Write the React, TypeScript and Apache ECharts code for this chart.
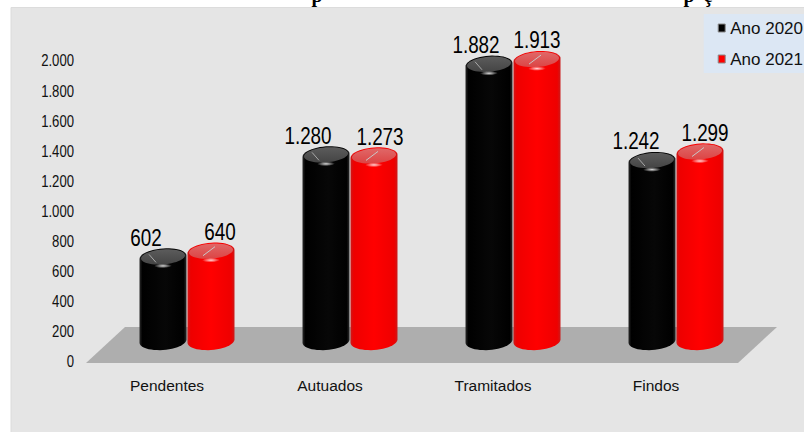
import React, { useEffect, useRef } from "react";
import * as echarts from "echarts";

const categories = ["Pendentes", "Autuados", "Tramitados", "Findos"];
const ano2020 = [602, 1280, 1882, 1242];
const ano2021 = [640, 1273, 1913, 1299];
const seriesNames = ["Ano 2020", "Ano 2021"];
const tickValues = [0, 200, 400, 600, 800, 1000, 1200, 1400, 1600, 1800, 2000];

// Hand-placed horizontal nudges of the value labels, per category.
const labelNudge2020 = [-17, -18, -13, -16];
const labelNudge2021 = [9, 6, 0, 5];

const FONT = '"Liberation Sans", Arial, sans-serif';
const SERIF = '"Liberation Serif", serif';
const SHIFT_X = 20; // cylinders sit back on the floor, right of the axis band
const SHIFT_Y = 13; // and above the scale line by the same perspective
const RX = 23.5;
const RY = 9;
const TILT = -0.07; // ellipse slope: the right side rides slightly higher

const fmt = (v: number) =>
  v >= 1000 ? `${Math.floor(v / 1000)}.${String(v % 1000).padStart(3, "0")}` : String(v);

// Point on a tilted ellipse centred at (cx, cy).
function pt(cx: number, cy: number, a: number, rx = RX, ry = RY) {
  const x = rx * Math.cos(a);
  const y = ry * Math.sin(a);
  return [cx + x, cy + y + x * TILT];
}

function ellipsePath(cx: number, cy: number, rx = RX, ry = RY) {
  const pts: string[] = [];
  for (let i = 0; i <= 48; i++) {
    const p = pt(cx, cy, (i / 48) * Math.PI * 2, rx, ry);
    pts.push(`${i ? "L" : "M"}${p[0].toFixed(2)} ${p[1].toFixed(2)}`);
  }
  return pts.join(" ") + " Z";
}

function bodyPath(cx: number, top: number, base: number) {
  const pts: string[] = [];
  for (let i = 0; i <= 24; i++) {
    const p = pt(cx, base, (i / 24) * Math.PI);
    pts.push(`${i ? "L" : "M"}${p[0].toFixed(2)} ${p[1].toFixed(2)}`);
  }
  for (let i = 24; i <= 48; i++) {
    const p = pt(cx, top, (i / 24) * Math.PI);
    pts.push(`L${p[0].toFixed(2)} ${p[1].toFixed(2)}`);
  }
  return pts.join(" ") + " Z";
}

const palettes = [
  {
    body: [
      [0, "#2a2a2a"],
      [0.06, "#000000"],
      [0.55, "#070707"],
      [0.94, "#000000"],
      [1, "#2a2a2a"],
    ],
    lid: ["#5c5c5c", "#444444"],
    needle: [[-14, -3], [-7, 5]],
    needleColor: "#a8a8a8",
  },
  {
    body: [
      [0, "#cc1a1a"],
      [0.07, "#ee0000"],
      [0.5, "#ff0000"],
      [0.93, "#ee0000"],
      [1, "#cc1a1a"],
    ],
    lid: ["#e06868", "#dc4444"],
    needle: [[4, -5], [-8, 4]],
    needleColor: "#c8c8c8",
  },
];

function cylinderSeries(name: string, values: number[], side: 0 | 1, nudge: number[]) {
  const pal = palettes[side];
  return {
    name,
    type: "custom",
    z: 3 + side,
    itemStyle: { color: side === 0 ? "#000000" : "#ff0000" },
    data: values.map((v, i) => [i, v]),
    encode: { x: 0, y: 1 },
    renderItem(_p: any, api: any) {
      const idx = api.value(0);
      const val = api.value(1);
      const [x, yVal] = api.coord([idx, val]);
      const [, yZero] = api.coord([idx, 0]);
      const cx = x + SHIFT_X + (side === 0 ? -24 : 24);
      const top = yVal - SHIFT_Y;
      const base = yZero - 20;
      return {
        type: "group",
        children: [
          {
            type: "path",
            shape: { pathData: bodyPath(cx, top, base) },
            style: {
              fill: {
                type: "linear",
                x: 0,
                y: 0,
                x2: 1,
                y2: 0,
                colorStops: pal.body.map(([offset, color]) => ({ offset, color })),
              },
            },
          },
          {
            type: "path",
            shape: { pathData: ellipsePath(cx, top - 0.5, RX - 1.5, RY - 1.5) },
            style: {
              fill: {
                type: "linear",
                x: 0,
                y: 0,
                x2: 0,
                y2: 1,
                colorStops: [
                  { offset: 0, color: pal.lid[0] },
                  { offset: 1, color: pal.lid[1] },
                ],
              },
            },
          },
          {
            type: "line",
            shape: {
              x1: cx + (pal.needle[0][0] as number),
              y1: top + (pal.needle[0][1] as number),
              x2: cx + (pal.needle[1][0] as number),
              y2: top + (pal.needle[1][1] as number),
            },
            style: { stroke: pal.needleColor, lineWidth: 1 },
          },
          {
            type: "path",
            shape: { pathData: ellipsePath(cx, top + 8.5, 9, 2.2) },
            style: {
              fill: {
                type: "radial",
                x: 0.5,
                y: 0.5,
                r: 0.5,
                colorStops: [
                  { offset: 0, color: "rgba(255,255,255,0.85)" },
                  { offset: 1, color: "rgba(255,255,255,0)" },
                ],
              },
            },
          },
          {
            type: "text",
            x: cx + nudge[idx],
            y: yVal - 33,
            scaleX: 0.82,
            style: {
              text: fmt(val),
              x: 0,
              y: 0,
              align: "center",
              verticalAlign: "middle",
              font: `23px ${FONT}`,
              fill: "#000000",
            },
          },
        ],
      };
    },
  };
}

const headingGlyph = (text: string, x: number) => ({
  type: "text",
  z: 5,
  style: { text, x, y: -15, align: "center", verticalAlign: "top", font: `bold 20px ${SERIF}`, fill: "#000" },
});

const option = {
  animation: false,
  backgroundColor: "transparent",
  graphic: [
    {
      type: "rect",
      z: -10,
      shape: { x: 11, y: 7.5, width: 794, height: 425 },
      style: { fill: "#e5e5e5", stroke: "#dcdcdc", lineWidth: 1 },
    },
    // Descenders of the heading, which runs off the top of the frame.
    headingGlyph("p", 317),
    headingGlyph("p", 689),
    headingGlyph("ç", 708),
  ],
  legend: {
    right: 0,
    top: 14,
    orient: "vertical",
    icon: "rect",
    itemWidth: 7,
    itemHeight: 8,
    itemGap: 14,
    padding: [5.5, 1, 5.5, 14],
    backgroundColor: "#dce7f4",
    data: seriesNames,
    itemStyle: { borderColor: "#8a8a8a", borderWidth: 1 },
    textStyle: { fontFamily: FONT, fontSize: 17, color: "#111111", padding: [0, 0, 0, 0] },
  },
  grid: { left: 85.5, width: 652, top: 60, height: 301, containLabel: false },
  xAxis: {
    type: "category",
    data: categories,
    axisLine: { show: false },
    axisTick: { show: false },
    axisLabel: { fontFamily: FONT, fontSize: 15.5, color: "#111111", margin: 16 },
  },
  yAxis: {
    type: "value",
    min: 0,
    max: 2000,
    interval: 200,
    splitLine: { show: false },
    axisLine: { show: false },
    axisTick: { show: false },
    axisLabel: { show: false },
  },
  series: [
    {
      type: "custom",
      z: 1,
      silent: true,
      data: [[0, 0]],
      encode: { x: 0, y: 1 },
      // Floor slab: a parallelogram hung off the axis band and the zero line.
      renderItem(_p: any, api: any) {
        const [, y0] = api.coord([0, 0]);
        const left = 86;
        const right = 738;
        return {
          type: "polygon",
          shape: {
            points: [
              [left, y0 + 2],
              [left + 39, y0 - 34],
              [right + 39, y0 - 34],
              [right, y0 + 2],
            ],
          },
          style: { fill: "#aeaeae" },
        };
      },
    },
    {
      // Value-axis labels, set in a condensed width the axis itself cannot produce.
      type: "custom",
      z: 2,
      silent: true,
      data: tickValues.map((v) => [0, v]),
      encode: { x: 0, y: 1 },
      renderItem(_p: any, api: any) {
        const v = api.value(1);
        const [, y] = api.coord([0, v]);
        return {
          type: "text",
          x: 74,
          y: y + 1,
          scaleX: 0.82,
          style: {
            text: fmt(v),
            x: 0,
            y: 0,
            align: "right",
            verticalAlign: "middle",
            font: `16px ${FONT}`,
            fill: "#111111",
          },
        };
      },
    },
    cylinderSeries(seriesNames[0], ano2020, 0, labelNudge2020),
    cylinderSeries(seriesNames[1], ano2021, 1, labelNudge2021),
  ],
};

export default function App() {
  const ref = useRef<HTMLDivElement>(null);
  useEffect(() => {
    const chart = echarts.init(ref.current!, null, { renderer: "svg" });
    chart.setOption(option as any);
    return () => chart.dispose();
  }, []);
  return (
    <div
      ref={ref}
      style={{ position: "fixed", left: 0, top: 0, width: 804, height: 432, background: "#ffffff" }}
    />
  );
}
